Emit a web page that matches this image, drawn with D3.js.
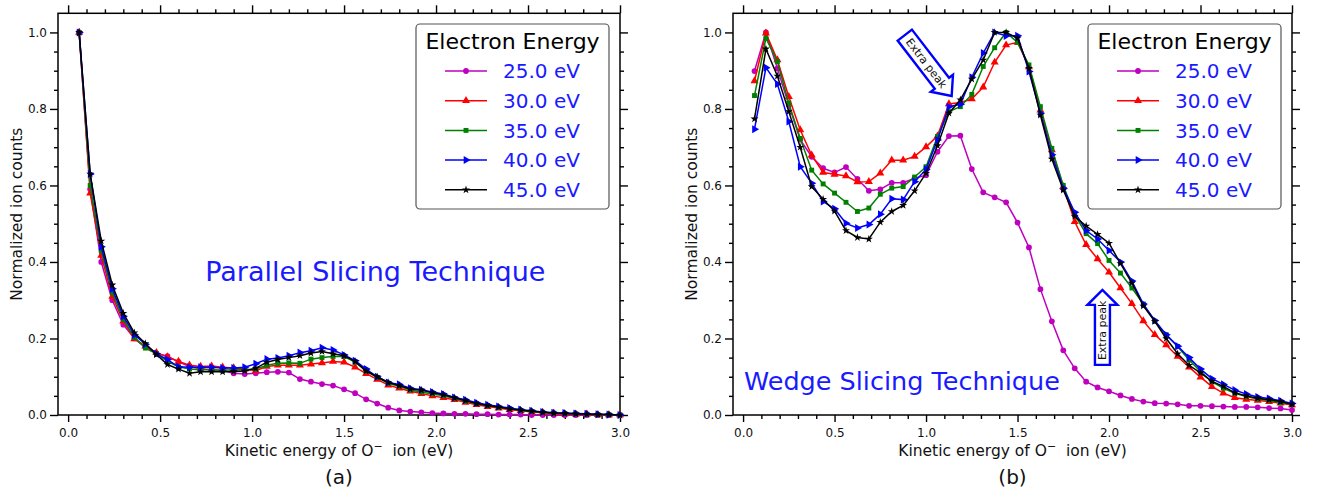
<!DOCTYPE html>
<html>
<head>
<meta charset="utf-8">
<script src="https://cdn.jsdelivr.net/npm/d3@7"></script>
<style>
  body { margin: 0; background: #fff; }
  svg { display: block; font-family: "DejaVu Sans", Verdana, sans-serif; }
</style>
</head>
<body>
<div id="chart"></div>
<script>
/* two panels: O- ion kinetic energy spectra, parallel slicing (a) and
 * wedge slicing (b), for five electron energies. */

// kinetic energy of each slice (eV)
const energiesA = [0.06, 0.12, 0.18, 0.24, 0.30, 0.36, 0.42, 0.48, 0.54, 0.60,
  0.66, 0.72, 0.78, 0.84, 0.90, 0.96, 1.02, 1.08, 1.14, 1.20,
  1.26, 1.32, 1.38, 1.44, 1.50, 1.56, 1.62, 1.68, 1.74, 1.80,
  1.86, 1.92, 1.98, 2.04, 2.10, 2.16, 2.22, 2.28, 2.34, 2.40,
  2.46, 2.52, 2.58, 2.64, 2.70, 2.76, 2.82, 2.88, 2.94, 3.00]
const energiesB = [0.0625, 0.125, 0.1875, 0.25, 0.3125, 0.375, 0.4375, 0.5,
  0.5625, 0.625, 0.6875, 0.75, 0.8125, 0.875, 0.9375, 1.0,
  1.0625, 1.125, 1.1875, 1.25, 1.3125, 1.375, 1.4375, 1.5,
  1.5625, 1.625, 1.6875, 1.75, 1.8125, 1.875, 1.9375, 2.0,
  2.0625, 2.125, 2.1875, 2.25, 2.3125, 2.375, 2.4375, 2.5,
  2.5625, 2.625, 2.6875, 2.75, 2.8125, 2.875, 2.9375, 3.0]

const seriesNames = ["25.0 eV", "30.0 eV", "35.0 eV", "40.0 eV", "45.0 eV"]

// (a) parallel slicing
const a25 = [1, 0.59, 0.40, 0.30, 0.236, 0.20, 0.177, 0.161, 0.154, 0.139,
  0.127, 0.121, 0.118, 0.116, 0.109, 0.107, 0.109, 0.112, 0.113, 0.111,
  0.094, 0.087, 0.081, 0.077, 0.067, 0.057, 0.041, 0.030, 0.019, 0.012,
  0.009, 0.007, 0.005, 0.004, 0.003, 0.003, 0.002, 0.002, 0.001, 0.001,
  0.001, 0, 0, 0, 0, 0, 0, 0, 0, 0]
const a30 = [1, 0.58, 0.417, 0.31, 0.245, 0.199, 0.18, 0.163, 0.152, 0.14,
  0.13, 0.127, 0.128, 0.125, 0.123, 0.12, 0.116, 0.127, 0.13, 0.13,
  0.13, 0.133, 0.136, 0.14, 0.138, 0.125, 0.108, 0.093, 0.078, 0.07,
  0.062, 0.056, 0.05, 0.045, 0.04, 0.033, 0.027, 0.022, 0.018, 0.014,
  0.011, 0.008, 0.006, 0.004, 0.003, 0.002, 0.002, 0.001, 0, 0]
const a35 = [1, 0.60, 0.43, 0.32, 0.25, 0.203, 0.175, 0.16, 0.14, 0.126,
  0.12, 0.118, 0.118, 0.117, 0.118, 0.118, 0.12, 0.13, 0.135, 0.136,
  0.135, 0.146, 0.15, 0.153, 0.153, 0.138, 0.115, 0.098, 0.083, 0.075,
  0.065, 0.06, 0.055, 0.05, 0.043, 0.036, 0.03, 0.025, 0.02, 0.016,
  0.012, 0.009, 0.007, 0.005, 0.004, 0.003, 0.002, 0.001, 0.001, 0]
const a40 = [1, 0.63, 0.44, 0.33, 0.258, 0.21, 0.185, 0.16, 0.145, 0.126,
  0.125, 0.125, 0.125, 0.123, 0.123, 0.125, 0.134, 0.146, 0.149, 0.155,
  0.163, 0.168, 0.176, 0.17, 0.157, 0.142, 0.12, 0.1, 0.085, 0.08,
  0.07, 0.066, 0.06, 0.055, 0.046, 0.04, 0.032, 0.027, 0.022, 0.018,
  0.014, 0.011, 0.008, 0.006, 0.005, 0.004, 0.003, 0.002, 0.001, 0]
const a45 = [1, 0.63, 0.455, 0.34, 0.266, 0.215, 0.187, 0.158, 0.132, 0.12,
  0.109, 0.113, 0.113, 0.113, 0.114, 0.115, 0.122, 0.138, 0.145, 0.15,
  0.155, 0.162, 0.166, 0.16, 0.155, 0.14, 0.115, 0.1, 0.085, 0.077,
  0.068, 0.065, 0.058, 0.053, 0.045, 0.038, 0.03, 0.025, 0.021, 0.016,
  0.013, 0.01, 0.007, 0.005, 0.004, 0.003, 0.002, 0.001, 0.001, 0]

// (b) wedge slicing
const b25 = [0.899, 1.0, 0.906, 0.81, 0.72, 0.675, 0.645, 0.634, 0.648, 0.617,
  0.586, 0.59, 0.607, 0.607, 0.619, 0.627, 0.688, 0.729, 0.73, 0.643,
  0.582, 0.569, 0.556, 0.503, 0.438, 0.329, 0.245, 0.169, 0.122, 0.087,
  0.072, 0.062, 0.051, 0.042, 0.035, 0.031, 0.03, 0.028, 0.024, 0.024,
  0.023, 0.022, 0.021, 0.021, 0.02, 0.018, 0.017, 0.013]
const b30 = [0.873, 0.998, 0.928, 0.832, 0.745, 0.679, 0.634, 0.629, 0.625, 0.609,
  0.61, 0.632, 0.666, 0.666, 0.676, 0.701, 0.729, 0.813, 0.817, 0.826,
  0.857, 0.922, 0.967, 0.974, 0.91, 0.797, 0.693, 0.597, 0.505, 0.445,
  0.408, 0.373, 0.332, 0.291, 0.246, 0.21, 0.183, 0.153, 0.125, 0.099,
  0.074, 0.057, 0.045, 0.041, 0.038, 0.035, 0.031, 0.026]
const b35 = [0.835, 0.985, 0.924, 0.815, 0.723, 0.64, 0.604, 0.58, 0.556, 0.532,
  0.541, 0.577, 0.593, 0.597, 0.622, 0.649, 0.728, 0.793, 0.806, 0.838,
  0.911, 0.96, 1.0, 0.974, 0.915, 0.806, 0.697, 0.6, 0.523, 0.474,
  0.448, 0.404, 0.371, 0.332, 0.29, 0.245, 0.21, 0.179, 0.144, 0.114,
  0.087, 0.07, 0.057, 0.048, 0.042, 0.038, 0.032, 0.029]
const b40 = [0.747, 0.908, 0.865, 0.767, 0.649, 0.606, 0.558, 0.539, 0.501, 0.489,
  0.498, 0.525, 0.565, 0.563, 0.61, 0.642, 0.719, 0.806, 0.812, 0.883,
  0.946, 1.0, 0.991, 0.991, 0.898, 0.789, 0.68, 0.593, 0.53, 0.482,
  0.46, 0.43, 0.40, 0.35, 0.29, 0.247, 0.21, 0.18, 0.15, 0.12,
  0.095, 0.08, 0.065, 0.055, 0.047, 0.043, 0.037, 0.03]
const b45 = [0.774, 0.957, 0.886, 0.793, 0.70, 0.597, 0.564, 0.533, 0.482, 0.464,
  0.46, 0.504, 0.532, 0.548, 0.586, 0.632, 0.704, 0.789, 0.824, 0.878,
  0.928, 1.0, 1.0, 0.985, 0.906, 0.784, 0.669, 0.588, 0.519, 0.494,
  0.472, 0.449, 0.396, 0.345, 0.285, 0.245, 0.2, 0.16, 0.13, 0.11,
  0.088, 0.075, 0.058, 0.05, 0.044, 0.04, 0.035, 0.028]

// tick values
const xMajor = [0, 0.5, 1.0, 1.5, 2.0, 2.5, 3.0]
const xMinor = [0.1, 0.2, 0.3, 0.4, 0.6, 0.7, 0.8, 0.9, 1.1, 1.2, 1.3, 1.4,
  1.6, 1.7, 1.8, 1.9, 2.1, 2.2, 2.3, 2.4, 2.6, 2.7, 2.8, 2.9]
const yMajor = [0, 0.2, 0.4, 0.6, 0.8, 1.0]
const yMinor = [0.05, 0.1, 0.15, 0.25, 0.3, 0.35, 0.45, 0.5, 0.55,
  0.65, 0.7, 0.75, 0.85, 0.9, 0.95]

/* styles */
const colors = ["#bf00bf", "#ff0000", "#008000", "#0000ff", "#000000"]
const symbols = [d3.symbolCircle, d3.symbolTriangle, d3.symbolSquare, d3.symbolTriangle, d3.symbolStar]
const symSize = [26, 28, 24, 28, 20]
const symRot = [0, 0, 0, 90, 0]
const legendBlue = "#1a1aff"

const width = 1324, height = 490
const plotTop = 13.3, plotBottom = 415

const svg = d3.select("#chart").append("svg")
  .attr("width", width)
  .attr("height", height)

svg.append("rect").attr("width", width).attr("height", height).attr("fill", "#fff")

function styleAxis(sel) {
  sel.select(".domain").remove()
  sel.selectAll("line").attr("stroke", "#000").attr("stroke-width", 1.4)
  sel.selectAll("text").attr("fill", "#111")
  sel.attr("font-family", null).attr("font-size", 12)
}

function drawPanel(p) {
  const g = svg.append("g")

  const x = d3.scaleLinear().domain([-0.055, 3.0]).range([p.left, p.right])
  const y = d3.scaleLinear().domain([0, 1.05]).range([plotBottom, plotTop])

  // bottom axis, with labels
  g.append("g").attr("transform", `translate(0,${plotBottom})`)
    .call(d3.axisBottom(x).tickValues(xMajor).tickSize(7).tickPadding(6).tickFormat(d3.format(".1f")))
    .call(styleAxis)
  g.append("g").attr("transform", `translate(0,${plotBottom})`)
    .call(d3.axisBottom(x).tickValues(xMinor).tickSize(4).tickFormat(""))
    .call(styleAxis)
  // top axis, ticks only
  g.append("g").attr("transform", `translate(0,${plotTop})`)
    .call(d3.axisTop(x).tickValues(xMajor).tickSize(8).tickFormat(""))
    .call(styleAxis)
  g.append("g").attr("transform", `translate(0,${plotTop})`)
    .call(d3.axisTop(x).tickValues(xMinor).tickSize(4).tickFormat(""))
    .call(styleAxis)
  // left axis
  g.append("g").attr("transform", `translate(${p.left},0)`)
    .call(d3.axisLeft(y).tickValues(yMajor).tickSize(8).tickPadding(3).tickFormat(d3.format(".1f")))
    .call(styleAxis)
  g.append("g").attr("transform", `translate(${p.left},0)`)
    .call(d3.axisLeft(y).tickValues(yMinor).tickSize(4).tickFormat(""))
    .call(styleAxis)
  // right axis
  g.append("g").attr("transform", `translate(${p.right},0)`)
    .call(d3.axisRight(y).tickValues(yMajor).tickSize(8).tickFormat(""))
    .call(styleAxis)
  g.append("g").attr("transform", `translate(${p.right},0)`)
    .call(d3.axisRight(y).tickValues(yMinor).tickSize(4).tickFormat(""))
    .call(styleAxis)

  // frame
  g.append("rect")
    .attr("x", p.left).attr("y", plotTop)
    .attr("width", p.right - p.left).attr("height", plotBottom - plotTop)
    .attr("fill", "none").attr("stroke", "#000").attr("stroke-width", 1.5)

  // curves + markers
  const line = d3.line().x(d => x(d[0])).y(d => y(d[1]))
  p.series.forEach((vals, i) => {
    const pts = p.energies.map((e, j) => [e, vals[j]])
    g.append("path").datum(pts)
      .attr("d", line)
      .attr("fill", "none")
      .attr("stroke", colors[i])
      .attr("stroke-width", 1.5)
    g.append("g").selectAll("path")
      .data(pts)
      .join("path")
      .attr("transform", d => `translate(${x(d[0])},${y(d[1])}) rotate(${symRot[i]})`)
      .attr("d", d3.symbol(symbols[i], symSize[i]))
      .attr("fill", colors[i])
  })

  // technique label
  g.append("text")
    .attr("x", x(p.label.x)).attr("y", y(p.label.y))
    .attr("text-anchor", p.label.anchor)
    .attr("font-size", p.label.size)
    .attr("fill", legendBlue)
    .text(p.label.text)

  // "Extra peak" arrows
  p.arrows.forEach(a => {
    const x0 = x(a.from[0]), y0 = y(a.from[1])
    const x1 = x(a.to[0]), y1 = y(a.to[1])
    const L = Math.hypot(x1 - x0, y1 - y0)
    const ang = Math.atan2(y1 - y0, x1 - x0) * 180 / Math.PI
    const bw = a.body / 2, hw = a.head / 2, hl = a.headLen
    const ag = g.append("g").attr("transform", `translate(${x0},${y0}) rotate(${ang})`)
    ag.append("path")
      .attr("d", `M0,${-bw}L${L - hl},${-bw}L${L - hl},${-hw}L${L},0L${L - hl},${hw}L${L - hl},${bw}L0,${bw}Z`)
      .attr("fill", "#fff")
      .attr("stroke", "#0000ff")
      .attr("stroke-width", 2.4)
      .attr("stroke-linejoin", "miter")
    ag.append("text")
      .attr("x", L / 2 - 3).attr("y", 0).attr("dy", "0.35em")
      .attr("text-anchor", "middle")
      .attr("font-size", 11)
      .attr("fill", "#111")
      .text("Extra peak")
  })

  // legend
  const lx = p.right - 204, ly = 24
  const leg = g.append("g")
  leg.append("rect")
    .attr("x", lx).attr("y", ly).attr("width", 193).attr("height", 185)
    .attr("rx", 4)
    .attr("fill", "#fff").attr("stroke", "#555").attr("stroke-width", 1.2)
  leg.append("text")
    .attr("x", lx + 96.5).attr("y", 49)
    .attr("text-anchor", "middle").attr("font-size", 22).attr("fill", "#000")
    .text("Electron Energy")
  seriesNames.forEach((name, i) => {
    const cy = 71 + i * 29.7
    leg.append("line")
      .attr("x1", lx + 29).attr("x2", lx + 71).attr("y1", cy).attr("y2", cy)
      .attr("stroke", colors[i]).attr("stroke-width", 1.5)
    leg.append("path")
      .attr("transform", `translate(${lx + 50},${cy}) rotate(${symRot[i]})`)
      .attr("d", d3.symbol(symbols[i], symSize[i]))
      .attr("fill", colors[i])
    leg.append("text")
      .attr("x", lx + 87).attr("y", cy).attr("dy", "0.36em")
      .attr("font-size", 20).attr("fill", legendBlue)
      .text(name)
  })

  // axis titles
  const cx = (p.left + p.right) / 2
  g.append("text")
    .attr("transform", `translate(${p.left - 36},${(plotTop + plotBottom) / 2}) rotate(-90)`)
    .attr("text-anchor", "middle").attr("font-size", 15.5).attr("fill", "#111")
    .text("Normalized ion counts")
  const xt = g.append("text")
    .attr("x", cx).attr("y", 456)
    .attr("text-anchor", "middle").attr("font-size", 15.5).attr("fill", "#111")
  xt.append("tspan").text("Kinetic energy of O")
  xt.append("tspan").attr("dy", -6).attr("font-size", 11).text("\u2212")
  xt.append("tspan").attr("dy", 6).text("\u00a0 ion (eV)")

  g.append("text")
    .attr("x", cx).attr("y", 484)
    .attr("text-anchor", "middle").attr("font-size", 20).attr("fill", "#111")
    .text(p.tag)
}

drawPanel({
  left: 58, right: 620,
  energies: energiesA,
  series: [a25, a30, a35, a40, a45],
  label: {text: "Parallel Slicing Technique", x: 1.67, y: 0.35, anchor: "middle", size: 27},
  arrows: [],
  tag: "(a)"
})

drawPanel({
  left: 733, right: 1292,
  energies: energiesB,
  series: [b25, b30, b35, b40, b45],
  label: {text: "Wedge Slicing Technique", x: 0.005, y: 0.065, anchor: "start", size: 25.5},
  arrows: [
    {from: [0.884, 0.993], to: [1.14, 0.834], body: 18, head: 28, headLen: 16},
    {from: [1.964, 0.131], to: [1.964, 0.327], body: 15, head: 30, headLen: 15}
  ],
  tag: "(b)"
})
</script>
</body>
</html>
